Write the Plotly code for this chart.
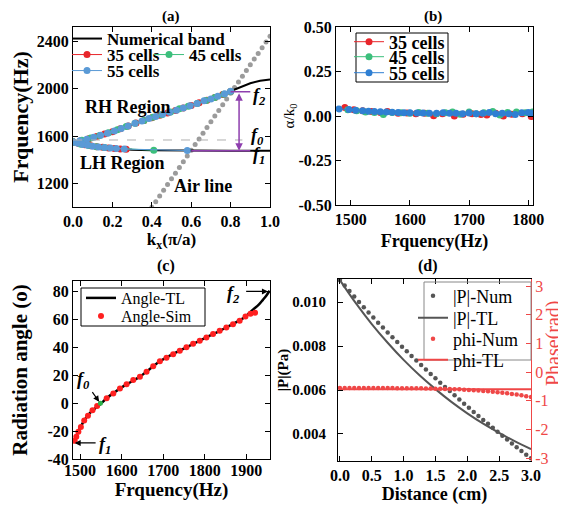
import plotly.graph_objects as go

FONT = "Liberation Serif"
W, H = 566, 508
OFF = 8  # the page body margin shifts the figure by 8 px
FW, FH = W - OFF, H - OFF

# ---------------- (a) band diagram ----------------
band_k_up = [0, 0.05, 0.1, 0.15, 0.2, 0.25, 0.3, 0.35, 0.4, 0.45, 0.5, 0.55, 0.6, 0.65, 0.7, 0.75, 0.8, 0.85, 0.9, 0.95, 1.0]
band_f_up = [1552, 1566, 1588, 1612, 1637, 1667, 1697, 1726, 1755, 1780, 1805, 1832, 1858, 1885, 1912, 1944, 1976, 2012, 2044, 2066, 2076]
band_k_lo = [0, 0.05, 0.1, 0.15, 0.2, 0.25, 0.3, 0.4, 0.5, 0.6, 0.8, 1.0]
band_f_lo = [1548, 1530, 1515, 1504, 1497, 1490, 1485, 1480, 1478, 1477, 1477, 1477]

c35_k_up = [0.0, 0.04, 0.08, 0.12, 0.16, 0.2, 0.24, 0.28, 0.32, 0.36, 0.4, 0.44, 0.48, 0.52, 0.56, 0.6, 0.64, 0.68, 0.72, 0.76, 0.8]
c35_f_up = [1552, 1563, 1578, 1597, 1617, 1637, 1661, 1685, 1709, 1732, 1755, 1775, 1795, 1816, 1837, 1858, 1880, 1901, 1925, 1950, 1976]
c35_k_lo = [0.0, 0.03, 0.06, 0.09, 0.12, 0.15, 0.18, 0.21, 0.24, 0.27]
c35_f_lo = [1548, 1537, 1527, 1518, 1511, 1505, 1500, 1496, 1492, 1489]

c45_k_up = [0.0, 0.045, 0.09, 0.135, 0.18, 0.225, 0.27, 0.315, 0.36, 0.405, 0.45, 0.495, 0.54, 0.585, 0.63, 0.675, 0.72, 0.765, 0.8]
c45_f_up = [1552, 1565, 1583, 1604, 1627, 1654, 1680, 1707, 1732, 1758, 1780, 1803, 1829, 1851, 1874, 1899, 1925, 1953, 1976]
c45_k_lo = [0.0, 0.04, 0.08, 0.12, 0.16, 0.41]
c45_f_lo = [1548, 1532, 1521, 1511, 1503, 1480]

c55_k_up = [0.0, 0.035, 0.07, 0.105, 0.14, 0.175, 0.21, 0.245, 0.28, 0.315, 0.35, 0.385, 0.42, 0.455, 0.49, 0.525, 0.56, 0.595, 0.63, 0.665, 0.7, 0.735, 0.77, 0.8]
c55_f_up = [1552, 1561, 1574, 1590, 1607, 1624, 1643, 1664, 1685, 1707, 1726, 1747, 1765, 1783, 1800, 1818, 1837, 1855, 1874, 1897, 1912, 1936, 1956, 1978]
c55_k_lo = [0.0, 0.025, 0.05, 0.075, 0.1, 0.13, 0.16, 0.19, 0.22, 0.26, 0.58]
c55_f_lo = [1548, 1539, 1530, 1522, 1515, 1509, 1503, 1499, 1495, 1491, 1478]

air_k = [0.40, 0.42, 0.44, 0.46, 0.48, 0.50, 0.52, 0.54, 0.56, 0.58, 0.60, 0.62, 0.64, 0.66, 0.68, 0.70,
         0.72, 0.74, 0.76, 0.78, 0.80, 0.82, 0.84, 0.86, 0.88, 0.90, 0.92, 0.94, 0.96, 0.98, 1.00]
air_f = [1000, 1048, 1096, 1144, 1192, 1240, 1288, 1336, 1384, 1432, 1480, 1528, 1576, 1624, 1672, 1720,
         1768, 1816, 1864, 1912, 1960, 2008, 2056, 2104, 2152, 2200, 2248, 2296, 2344, 2392, 2440]

f0_a, f1_a, f2_a = 1567, 1477, 1973

# ---------------- (b) attenuation ----------------
b35_f = [1490, 1505, 1520, 1535, 1550, 1562, 1580, 1595, 1610, 1625, 1640, 1655, 1675, 1690, 1705, 1720, 1730, 1745, 1758, 1772, 1790, 1805]
b35_a = [0.048, 0.035, 0.03, 0.025, 0.02, 0.025, 0.015, 0.017, 0.012, 0.015, 0.002, 0.013, 0.0, 0.01, 0.012, 0.008, 0.005, 0.015, 0.0, 0.01, 0.012, -0.003]
b45_f = [1495, 1510, 1525, 1540, 1555, 1570, 1585, 1600, 1615, 1630, 1645, 1660, 1672, 1685, 1700, 1712, 1725, 1740, 1752, 1765, 1780, 1795, 1807]
b45_a = [0.035, 0.03, 0.022, 0.02, 0.008, 0.02, 0.018, 0.015, 0.02, 0.015, 0.012, 0.018, 0.022, 0.01, 0.022, 0.012, 0.018, 0.025, 0.005, 0.02, 0.022, 0.018, 0.022]
b55_f = [1480, 1497, 1508, 1520, 1530, 1540, 1550, 1560, 1570, 1580, 1590, 1600, 1612, 1622, 1633, 1645,
         1656, 1667, 1678, 1689, 1700, 1712, 1723, 1734, 1745, 1756, 1767, 1778, 1789, 1800, 1805]
b55_a = [0.04, 0.037, 0.033, 0.03, 0.027, 0.025, 0.024, 0.022, 0.021, 0.02, 0.018, 0.018, 0.017, 0.017, 0.016, 0.016,
         0.018, 0.015, 0.016, 0.013, 0.017, 0.012, 0.015, 0.02, 0.012, 0.016, 0.013, 0.008, 0.018, 0.02, 0.015]

# ---------------- (c) radiation angle ----------------
tl_f = [1486, 1490, 1496, 1503, 1512, 1524, 1537, 1550, 1564, 1584, 1604, 1624, 1644, 1668, 1692,
        1716, 1740, 1764, 1788, 1812, 1836, 1860, 1884, 1900, 1916, 1930, 1940, 1948, 1956]
tl_ang = [-28, -24, -20, -16, -11.5, -7, -3.5, -0.5, 3.5, 8, 12, 15.5, 19, 24.5, 30,
          34, 37.6, 41.2, 44.7, 48.3, 51.8, 55.5, 59.3, 62.5, 67, 70.5, 74, 77, 80.5]
sim_f = [1487, 1491, 1496, 1502, 1510, 1519, 1530, 1541, 1564, 1580, 1596, 1612, 1628, 1644, 1660, 1676,
         1692, 1708, 1724, 1740, 1756, 1772, 1788, 1804, 1820, 1836, 1852, 1868, 1884, 1898, 1910, 1921]
sim_ang = [-27, -24, -20.5, -17, -12.5, -9, -5, -2, 3.5, 7, 10.5, 13.5, 16.5, 19, 22.5, 26.5,
           30, 32.5, 35, 37.6, 40, 42.5, 44.7, 47, 49.5, 51.8, 54.2, 56.5, 59, 62, 64, 64.7]
f0_c = 1549

# ---------------- (d) pressure along the surface ----------------
dist_tl = [0.0, 0.25, 0.5, 0.75, 1.0, 1.25, 1.5, 1.75, 2.0, 2.25, 2.5, 2.75, 3.0]
p_tl = [0.0110, 0.00995, 0.00900, 0.00815, 0.00737, 0.00667, 0.00604, 0.00546, 0.00494, 0.00447, 0.00405, 0.00366, 0.00331]
dist_num = [0.0, 0.075, 0.15, 0.225, 0.3, 0.375, 0.45, 0.525, 0.6, 0.675, 0.75, 0.825, 0.9, 0.975,
            1.05, 1.125, 1.2, 1.275, 1.35, 1.425, 1.5, 1.575, 1.65, 1.725, 1.8, 1.875, 1.95, 2.025,
            2.1, 2.175, 2.25, 2.325, 2.4, 2.475, 2.55, 2.625, 2.7, 2.775, 2.85, 2.925, 3.0]
p_num = [0.01100, 0.01075, 0.01050, 0.01025, 0.01000, 0.00977, 0.00953, 0.00930, 0.00906, 0.00884,
         0.00862, 0.00840, 0.00818, 0.00797, 0.00776, 0.00755, 0.00734, 0.00714, 0.00693, 0.00673,
         0.00653, 0.00633, 0.00614, 0.00595, 0.00576, 0.00557, 0.00538, 0.00519, 0.00500, 0.00482,
         0.00464, 0.00446, 0.00428, 0.00410, 0.00392, 0.00375, 0.00357, 0.00340, 0.00323, 0.00306, 0.00290]
phi_num = [-0.55, -0.55, -0.55, -0.55, -0.55, -0.55, -0.55, -0.55, -0.55, -0.555, -0.555, -0.555,
           -0.56, -0.56, -0.56, -0.56, -0.565, -0.565, -0.57, -0.57, -0.575, -0.58, -0.585, -0.59,
           -0.595, -0.60, -0.61, -0.62, -0.63, -0.64, -0.655, -0.67, -0.685, -0.70, -0.72, -0.74,
           -0.76, -0.78, -0.81, -0.84, -0.87]
dist_phi_tl = [0.0, 3.0]
phi_tl = [-0.6, -0.6]

# tick labels with plain hyphens as in the original
b_ticks = [-0.5, -0.25, 0, 0.25, 0.5]
b_ticktext = ["-0.50", "-0.25", "0.00", "0.25", "0.50"]
c_ticks = [-40, -20, 0, 20, 40, 60, 80]
c_ticktext = ["-40", "-20", "0", "20", "40", "60", "80"]
ph_ticks = [-3, -2, -1, 0, 1, 2, 3]
ph_ticktext = ["-3", "-2", "-1", "0", "1", "2", "3"]

RED = "#e8262b"
GREEN = "#3cbf7c"
BLUE_A = "#5a9ad6"
BLUE_B = "#2f7fd3"
PURPLE = "#8e3fae"
GREY = "#555555"
PRED = "#ef4747"


# helpers: page pixel -> paper fraction
def px(x):
    return (x - OFF) / FW


def py(y):
    return 1 - (y - OFF) / FH


def fnt(size, bold=True, color="black", italic=False):
    return dict(family=FONT, size=size, color=color,
                weight="bold" if bold else "normal", style="italic" if italic else "normal")


def leg(x, y, size, bold=True):
    return dict(x=px(x), y=py(y), xanchor="left", yanchor="middle", bgcolor="rgba(0,0,0,0)",
                borderwidth=0, font=fnt(size, bold), itemwidth=30,
                tracegroupgap=0, itemclick=False)


def txt(text, x, y, xref, yref, font, angle=0):
    return dict(text=text, x=x, y=y, xref=xref, yref=yref, showarrow=False, font=font,
                xanchor="center", yanchor="middle", textangle=angle)


def arrow(x, y, ax, ay, xr, yr, color="black", width=1.2, both=False):
    return dict(text="", x=x, y=y, ax=ax, ay=ay, xref=xr, yref=yr, axref=xr, ayref=yr,
                showarrow=True, arrowhead=2, arrowsize=1, arrowwidth=width, arrowcolor=color,
                arrowside="end+start" if both else "end")


fig = go.Figure()

# (a)
fig.add_trace(go.Scatter(x=air_k, y=air_f, mode="markers", marker=dict(color="#9b9b9b", size=5),
                         showlegend=False, xaxis="x", yaxis="y"))
fig.add_trace(go.Scatter(x=band_k_up + [None] + band_k_lo, y=band_f_up + [None] + band_f_lo, mode="lines",
                         line=dict(color="black", width=2), name="Numerical band", legend="legend",
                         xaxis="x", yaxis="y"))
for name, ku, fu, kl, fl, col, lg in [
    ("35 cells", c35_k_up, c35_f_up, c35_k_lo, c35_f_lo, RED, "legend2"),
    ("45 cells", c45_k_up, c45_f_up, c45_k_lo, c45_f_lo, GREEN, "legend13"),
    ("55 cells", c55_k_up, c55_f_up, c55_k_lo, c55_f_lo, BLUE_A, "legend3"),
]:
    fig.add_trace(go.Scatter(x=ku + [None] + kl, y=fu + [None] + fl, mode="lines+markers",
                             line=dict(color=col, width=1), marker=dict(color=col, size=7),
                             name=name, legend=lg, xaxis="x", yaxis="y"))

# (b)
for name, fx, ay, col, lg in [
    ("35 cells", b35_f, b35_a, RED, "legend4"),
    ("45 cells", b45_f, b45_a, GREEN, "legend5"),
    ("55 cells", b55_f, b55_a, BLUE_B, "legend6"),
]:
    fig.add_trace(go.Scatter(x=fx, y=ay, mode="lines+markers", line=dict(color=col, width=1),
                             marker=dict(color=col, size=7), name=name, legend=lg,
                             xaxis="x2", yaxis="y2"))

# (c)
fig.add_trace(go.Scatter(x=tl_f, y=tl_ang, mode="lines", line=dict(color="black", width=2.5, shape="spline"),
                         name="Angle-TL", legend="legend7", xaxis="x3", yaxis="y3"))
fig.add_trace(go.Scatter(x=sim_f, y=sim_ang, mode="markers", marker=dict(color="#ff2020", size=6),
                         name="Angle-Sim", legend="legend8", xaxis="x3", yaxis="y3"))
fig.add_trace(go.Scatter(x=[f0_c], y=[0], mode="markers", marker=dict(color="#2db34a", size=5),
                         showlegend=False, xaxis="x3", yaxis="y3"))

# (d)
fig.add_trace(go.Scatter(x=dist_num, y=p_num, mode="markers", marker=dict(color=GREY, size=4.5),
                         name="|P|-Num", legend="legend9", xaxis="x4", yaxis="y4"))
fig.add_trace(go.Scatter(x=dist_tl, y=p_tl, mode="lines", line=dict(color=GREY, width=2, shape="spline"),
                         name="|P|-TL", legend="legend10", xaxis="x4", yaxis="y4"))
fig.add_trace(go.Scatter(x=dist_num, y=phi_num, mode="markers", marker=dict(color=PRED, size=4.5),
                         name="phi-Num", legend="legend11", xaxis="x4", yaxis="y5"))
fig.add_trace(go.Scatter(x=dist_phi_tl, y=phi_tl, mode="lines", line=dict(color=PRED, width=2),
                         name="phi-TL", legend="legend12", xaxis="x4", yaxis="y5"))

base = dict(showline=True, linecolor="black", linewidth=1, mirror="ticks", ticks="inside", ticklen=5,
            tickcolor="black", showgrid=False, zeroline=False, automargin=False, tickfont=fnt(16))

fig.update_layout(
    width=FW, height=FH, margin=dict(l=0, r=0, t=0, b=0),
    paper_bgcolor="white", plot_bgcolor="white",
    xaxis=dict(base, domain=[px(73), px(270)], anchor="y", range=[0, 1], dtick=0.2, tickformat=".1f",
               title=dict(text="k<sub>x</sub>(π/a)", font=fnt(17), standoff=2)),
    yaxis=dict(base, domain=[py(207), py(27)], anchor="x", range=[1003, 2518], tick0=0, dtick=400,
               title=dict(text="Frquency(Hz)", font=fnt(22), standoff=4)),
    xaxis2=dict(base, domain=[px(336), px(533)], anchor="y2", range=[1475, 1808], tick0=1500, dtick=100,
                title=dict(text="Frquency(Hz)", font=fnt(18), standoff=7)),
    yaxis2=dict(base, domain=[py(205), py(27)], anchor="x2", range=[-0.5, 0.5],
                tickvals=b_ticks, ticktext=b_ticktext,
                title=dict(text="α/k<sub>0</sub>", font=fnt(15, bold=False), standoff=0)),
    xaxis3=dict(base, domain=[px(73), px(270)], anchor="y3", range=[1483, 1957], tick0=1500, dtick=100,
                ticklabelstandoff=-3,
                title=dict(text="Frquency(Hz)", font=fnt(19), standoff=0)),
    yaxis3=dict(base, domain=[py(459), py(281)], anchor="x3", range=[-40, 87.5],
                tickvals=c_ticks, ticktext=c_ticktext,
                title=dict(text="Radiation angle (o)", font=fnt(21), standoff=22)),
    xaxis4=dict(base, domain=[px(338), px(531)], anchor="y4", range=[-0.03, 3.0], dtick=0.5, tickformat=".1f",
                title=dict(text="Distance (cm)", font=fnt(18), standoff=3)),
    yaxis4=dict(base, mirror=False, domain=[py(461), py(279)], anchor="x4", range=[0.00277, 0.01105],
                tickvals=[0.004, 0.006, 0.008, 0.010], tickformat=".3f", tickfont=fnt(15),
                ticklabelstandoff=8,
                title=dict(text="|P|(Pa)", font=fnt(15), standoff=0)),
    yaxis5=dict(showline=True, linecolor=PRED, linewidth=1, ticks="inside", ticklen=5, tickcolor=PRED,
                showgrid=False, zeroline=False, automargin=False, overlaying="y4", side="right", anchor="x4",
                range=[-3.1, 3.25], tickvals=ph_ticks, ticktext=ph_ticktext,
                tickfont=fnt(16, bold=False, color=PRED)),
    legend=leg(67, 39, 17),
    legend2=leg(67, 55, 17),
    legend13=leg(149, 55, 17),
    legend3=leg(67, 71, 17),
    legend4=leg(349, 42, 18),
    legend5=leg(349, 57, 18),
    legend6=leg(349, 73, 18),
    legend7=leg(81, 298, 16, bold=False),
    legend8=leg(81, 316, 16, bold=False),
    legend9=leg(413, 296, 18, bold=False),
    legend10=leg(413, 318, 18, bold=False),
    legend11=leg(413, 339, 18, bold=False),
    legend12=leg(413, 360, 18, bold=False),
)

shapes = [
    dict(type="line", xref="x", yref="y", x0=0, x1=0.86, y0=f0_a, y1=f0_a,
         line=dict(color="#b0b0b0", width=1, dash="dash")),
    dict(type="line", xref="x", yref="y", x0=0.80, x1=0.90, y0=f2_a, y1=f2_a, line=dict(color=PURPLE, width=1.5)),
    dict(type="line", xref="x", yref="y", x0=0.60, x1=0.90, y0=f1_a, y1=f1_a, line=dict(color=PURPLE, width=1.5)),
    dict(type="rect", xref="paper", yref="paper", x0=px(356), x1=px(448), y0=py(82), y1=py(33),
         line=dict(color="black", width=1)),
    dict(type="rect", xref="paper", yref="paper", x0=px(81), x1=px(205), y0=py(326), y1=py(288),
         line=dict(color="black", width=1)),
    dict(type="rect", xref="paper", yref="paper", x0=px(424), x1=px(531), y0=py(360), y1=py(282),
         line=dict(color="#888888", width=1)),
]

annotations = [
    # panel labels
    txt("(a)", px(171), py(16), "paper", "paper", fnt(15)),
    txt("(b)", px(433), py(16), "paper", "paper", fnt(15)),
    txt("(c)", px(166), py(266), "paper", "paper", fnt(16)),
    txt("(d)", px(428), py(266), "paper", "paper", fnt(16)),
    # right axis title of (d)
    txt("Phase(rad)", px(553), py(343), "paper", "paper", fnt(20, bold=False, color=PRED), angle=-90),
    # (a) texts
    txt("RH Region", 0.28, 1845, "x", "y", fnt(18)),
    txt("LH Region", 0.25, 1372, "x", "y", fnt(18)),
    txt("Air line", 0.66, 1180, "x", "y", fnt(18)),
    txt("f<sub>2</sub>", 0.945, 1935, "x", "y", fnt(18, italic=True)),
    txt("f<sub>0</sub>", 0.935, 1600, "x", "y", fnt(18, italic=True)),
    txt("f<sub>1</sub>", 0.945, 1440, "x", "y", fnt(18, italic=True)),
    arrow(0.843, f1_a, 0.843, f2_a, "x", "y", color=PURPLE, width=1.5, both=True),
    # (c) texts
    txt("f<sub>0</sub>", 1508, 16.5, "x3", "y3", fnt(18, italic=True)),
    arrow(1546, 1, 1527, 9, "x3", "y3"),
    txt("f<sub>1</sub>", 1560, -30, "x3", "y3", fnt(18, italic=True)),
    arrow(1487, -28.5, 1541, -28.5, "x3", "y3"),
    txt("f<sub>2</sub>", 1869, 78, "x3", "y3", fnt(18, italic=True)),
    arrow(1952, 80, 1896, 80, "x3", "y3"),
]

fig.update_layout(shapes=shapes, annotations=annotations)

fig.write_html("out.html")
